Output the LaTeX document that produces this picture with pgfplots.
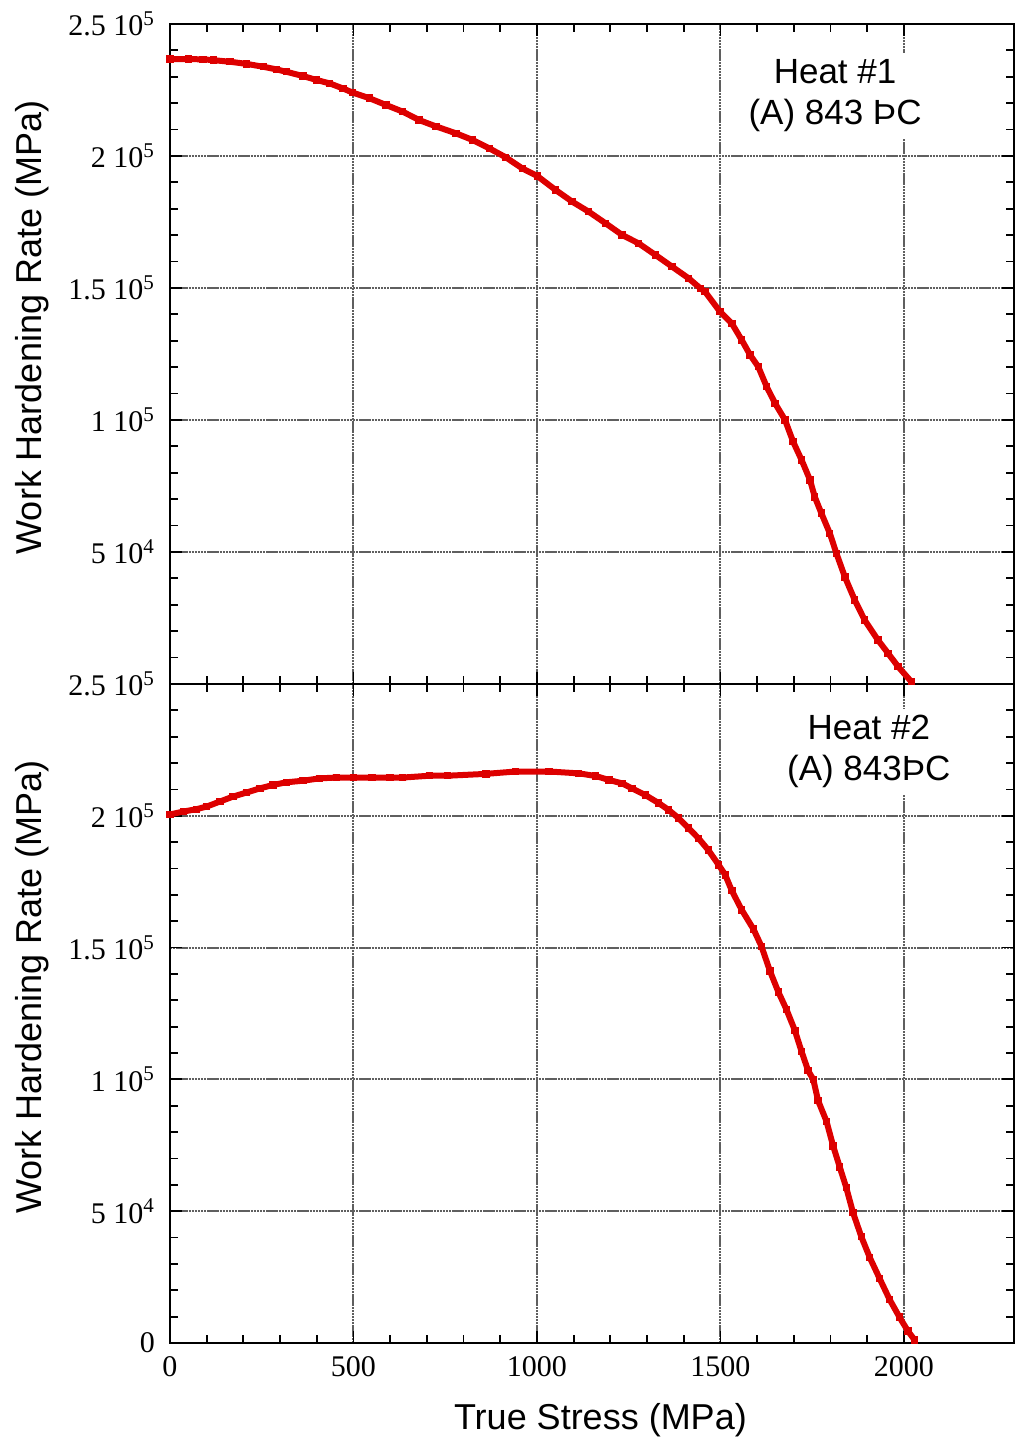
\documentclass[border=0pt]{standalone}
\usepackage{pgfplots}
\pgfplotsset{compat=1.18}
\usepackage{fontspec}
\setmainfont{Liberation Serif}
\newfontfamily\arial{Liberation Sans}
\definecolor{curvered}{RGB}{221,0,0}
\definecolor{gridgray}{RGB}{95,95,95}

\pgfplotstableread{
x y
0 236700
50 236700
90 236600
118 236300
163 235700
208 234900
254 233800
290 232800
317 231900
362 230300
399 228800
435 227500
471 225600
498 224000
543 221900
589 219300
634 216800
679 213600
725 211200
779 208600
824 206100
870 202900
915 199500
960 195300
1001 192400
1051 187100
1096 182700
1141 178900
1187 174500
1232 170100
1277 166900
1323 162500
1368 158100
1413 153700
1445 149900
1458 148600
1499 141000
1531 136600
1558 130300
1581 124600
1603 120200
1626 112600
1649 106300
1676 100000
1698 91800
1721 84900
1744 77300
1757 70900
1775 64700
1798 57100
1816 49500
1839 40600
1866 31800
1893 24200
1929 16700
1957 11600
1984 6600
2020 900
}\heatone

\pgfplotstableread{
x y
0 200500
36 201600
72 202500
100 203500
136 205400
172 207300
208 208800
245 210400
281 211700
317 212700
362 213300
408 214200
453 214500
500 214500
550 214500
600 214500
634 214500
707 215200
757 215200
861 215900
942 216800
1033 216800
1114 216100
1160 215100
1196 213600
1232 212300
1259 210400
1295 207900
1332 204800
1359 202200
1386 199100
1413 195300
1440 191500
1467 187000
1495 181400
1513 177600
1531 171600
1558 164300
1590 157000
1612 150400
1635 141100
1658 133100
1680 126500
1703 118500
1721 110600
1739 103300
1753 100000
1766 92000
1789 84100
1807 74800
1825 66800
1843 58900
1861 49600
1884 40300
1907 32400
1934 24400
1961 16500
1988 9800
2011 4500
2029 1200
}\heattwo

\pgfplotsset{
  panel/.style={
    scale only axis,
    width=422pt,
    xmin=0, xmax=2300,
    ymin=0, ymax=250000,
    xtick={0,500,1000,1500,2000},
    minor x tick num=4,
    ytick={0,50000,100000,150000,200000,250000},
    minor y tick num=4,
    scaled y ticks=false,
    scaled x ticks=false,
    tick align=inside,
    major tick length=6pt,
    minor tick length=4pt,
    every tick/.style={black, line width=0.9pt},
    axis line style={black, line width=1.2pt},
    grid=major,
    major grid style={gridgray, line width=1pt, dash pattern=on 1.2pt off 0.35pt},
    /pgf/number format/assume math mode=true,
    tick label style={font=\fontsize{15}{18}\selectfont},
    yticklabel style={xshift=-4pt},
    xticklabel style={yshift=-3pt},
    ylabel={Work Hardening Rate (MPa)},
    ylabel style={font=\arial\fontsize{18}{21}\selectfont, at={(axis description cs:-0.1635,0.54)}, anchor=center},
    clip=true,
  },
  curve/.style={curvered, line width=3pt, mark=square*, mark size=1.6pt, mark options={curvered, line width=0pt}},
}

\begin{document}
\begin{tikzpicture}
\path[use as bounding box] (-85pt,-50pt) rectangle (422.5pt,671.5pt);

\begin{axis}[panel,
  at={(0,0)}, anchor=south west,
  height=329.5pt,
  yticklabels={0,{5 10\textsuperscript{4}},{1 10\textsuperscript{5}},{1.5 10\textsuperscript{5}},{2 10\textsuperscript{5}},{2.5 10\textsuperscript{5}}},
  xticklabels={0,500,1000,1500,2000},
  xlabel={True Stress (MPa)},
  xlabel style={font=\arial\fontsize{18}{21}\selectfont, at={(axis description cs:0.51,-0.117)}, anchor=center},
]
\addplot[curve] table[x=x,y=y] {\heattwo};
\node[fill=white, align=center, inner sep=3.5pt, font=\arial\fontsize{17.5}{20.5}\selectfont] at (axis description cs:0.828,0.897) {Heat \#2\\(A) 843ÞC};
\end{axis}

\begin{axis}[panel,
  at={(0,329.5pt)}, anchor=south west,
  height=330pt,
  yticklabels={{},{5 10\textsuperscript{4}},{1 10\textsuperscript{5}},{1.5 10\textsuperscript{5}},{2 10\textsuperscript{5}},{2.5 10\textsuperscript{5}}},
  xticklabels={},
]
\addplot[curve] table[x=x,y=y] {\heatone};
\node[fill=white, align=center, inner sep=3.5pt, font=\arial\fontsize{17.5}{20.5}\selectfont] at (axis description cs:0.788,0.891) {Heat \#1\\(A) 843 ÞC};
\end{axis}
\end{tikzpicture}
\end{document}
